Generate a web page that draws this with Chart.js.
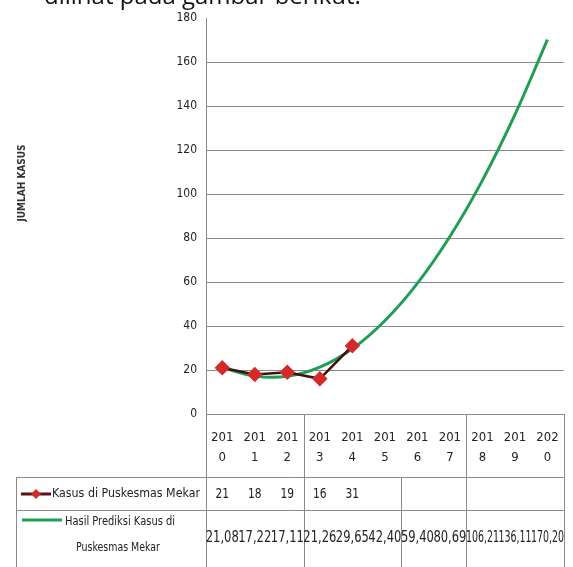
<!DOCTYPE html>
<html>
<head>
<meta charset="utf-8">
<script src="https://cdn.jsdelivr.net/npm/chart.js@4.4.1/dist/chart.umd.min.js"></script>
<style>
  body { margin: 0; background: #fff; overflow: hidden; }
  #wrap { position: relative; width: 573px; height: 567px; overflow: hidden; }
  #chart { position: absolute; left: 0; top: 0; }
  #intro { position: absolute; left: 44px; top: -22px; font: 24px "Open Sans", sans-serif; color: #111; white-space: nowrap; }
</style>
</head>
<body>
<div id="wrap">
  <canvas id="chart" width="573" height="567"></canvas>
  <div id="intro">dilihat pada gambar berikut:</div>
</div>
<script>
const tahun = ['2010', '2011', '2012', '2013', '2014', '2015', '2016', '2017', '2018', '2019', '2020'];
const kasus = [21, 18, 19, 16, 31, null, null, null, null, null, null];
const prediksi = [21.08, 17.22, 17.11, 21.26, 29.65, 42.40, 59.40, 80.69, 106.21, 136.11, 170.2];
const yTicks = [0, 20, 40, 60, 80, 100, 120, 140, 160, 180];

const labelKasus = 'Kasus di Puskesmas Mekar';
const labelPrediksi = ['Hasil Prediksi Kasus di', 'Puskesmas Mekar'];

const narrow = '"DejaVu Sans Condensed", "Liberation Sans Narrow", sans-serif';
const lineCol = '#8a8a8a';

// squeeze text horizontally, the scan uses a narrow font
function fillSqueezed(ctx, text, x, y, maxW, sx) {
  let s = sx || 1;
  if (maxW) s = Math.min(s, maxW / ctx.measureText(text).width);
  ctx.save();
  ctx.translate(x, y);
  ctx.scale(s, 1);
  ctx.fillText(text, 0, 0);
  ctx.restore();
}

// data table under the x axis, drawn like the Excel one
const tabelData = {
  id: 'tabelData',
  afterDraw(chart) {
    const ctx = chart.ctx;
    const x = chart.scales.x;
    const w = x.getPixelForValue(1) - x.getPixelForValue(0);
    const edge = i => x.getPixelForValue(0) - w / 2 + i * w;
    const axisY = chart.chartArea.bottom;
    const row1 = 477, row2 = 510, bottom = 567;

    ctx.save();
    ctx.strokeStyle = lineCol;
    ctx.lineWidth = 1;
    ctx.beginPath();
    [0, 3, 8, 11].forEach(i => {
      const px = Math.round(edge(i)) + 0.5;
      ctx.moveTo(px, axisY); ctx.lineTo(px, bottom);
    });
    const px6 = Math.round(edge(6)) + 0.5;
    ctx.moveTo(px6, row1); ctx.lineTo(px6, bottom);
    ctx.moveTo(16.5, row1); ctx.lineTo(16.5, bottom);
    ctx.moveTo(16, row1 + 0.5); ctx.lineTo(edge(11), row1 + 0.5);
    ctx.moveTo(16, row2 + 0.5); ctx.lineTo(edge(11), row2 + 0.5);
    ctx.stroke();

    // legend keys
    ctx.lineWidth = 3;
    ctx.strokeStyle = '#5a1010';
    ctx.beginPath(); ctx.moveTo(21, 494); ctx.lineTo(51, 494); ctx.stroke();
    ctx.fillStyle = '#d42a2a';
    ctx.beginPath();
    ctx.moveTo(36, 489); ctx.lineTo(41, 494); ctx.lineTo(36, 499); ctx.lineTo(31, 494);
    ctx.closePath(); ctx.fill();
    ctx.strokeStyle = '#1f9e55';
    ctx.beginPath(); ctx.moveTo(22, 520); ctx.lineTo(62, 520); ctx.stroke();

    ctx.fillStyle = '#222';
    ctx.textBaseline = 'middle';
    ctx.font = '13px ' + narrow;
    ctx.textAlign = 'left';
    fillSqueezed(ctx, labelKasus, 52, 494, 148);
    ctx.textAlign = 'center';
    ctx.font = '13px ' + narrow;
    fillSqueezed(ctx, labelPrediksi[0], 120, 522, 110);
    fillSqueezed(ctx, labelPrediksi[1], 118, 548, 84);

    ctx.font = '14px ' + narrow;
    kasus.forEach((v, i) => {
      if (v !== null) fillSqueezed(ctx, String(v), x.getPixelForValue(i), 494, 0, 0.85);
    });
    ctx.font = '15px ' + narrow;
    prediksi.forEach((v, i) => {
      fillSqueezed(ctx, v.toFixed(2).replace('.', ','), x.getPixelForValue(i), 538, 33);
    });

    // y axis title
    ctx.translate(22, 183);
    ctx.rotate(-Math.PI / 2);
    ctx.font = 'bold 10px "DejaVu Sans Condensed", sans-serif';
    ctx.fillStyle = '#333';
    ctx.fillText('JUMLAH KASUS', 0, 0);
    ctx.restore();
  }
};

new Chart(document.getElementById('chart'), {
  type: 'line',
  data: {
    labels: tahun,
    datasets: [{
      label: labelKasus,
      data: kasus,
      borderColor: '#4a0c0c',
      borderWidth: 2.5,
      pointStyle: 'rectRot',
      pointRadius: 6,
      pointBackgroundColor: '#d42a2a',
      pointBorderColor: '#d42a2a',
      tension: 0
    }, {
      label: labelPrediksi.join(' '),
      data: prediksi,
      borderColor: '#1f9e55',
      borderWidth: 3,
      pointRadius: 0,
      tension: 0.4
    }]
  },
  options: {
    responsive: false,
    devicePixelRatio: 1,
    animation: false,
    layout: { padding: { left: 0, right: 6, top: 18, bottom: 0 } },
    plugins: { legend: { display: false }, tooltip: { enabled: false } },
    scales: {
      x: {
        offset: true,
        grid: { display: false, drawTicks: false },
        border: { color: lineCol },
        ticks: {
          font: { family: narrow, size: 13, lineHeight: 1.5 },
          color: '#222',
          padding: 14,
          maxRotation: 0,
          autoSkip: false,
          callback: function(value, i) {
            const t = tahun[i];
            return [t.slice(0, 3), t.slice(3)];
          }
        },
        afterFit: s => { s.height = 567 - 414; }
      },
      y: {
        min: yTicks[0],
        max: yTicks[yTicks.length - 1],
        afterBuildTicks: s => { s.ticks = yTicks.map(v => ({ value: v })); },
        grid: {
          drawTicks: false,
          color: c => (c.tick && c.tick.value === 180 ? 'rgba(0,0,0,0)' : lineCol)
        },
        border: { color: lineCol },
        ticks: {
          font: { family: narrow, size: 12 },
          color: '#222',
          padding: 9
        },
        afterFit: s => { s.width = 206; }
      }
    }
  },
  plugins: [tabelData]
});
</script>
</body>
</html>
